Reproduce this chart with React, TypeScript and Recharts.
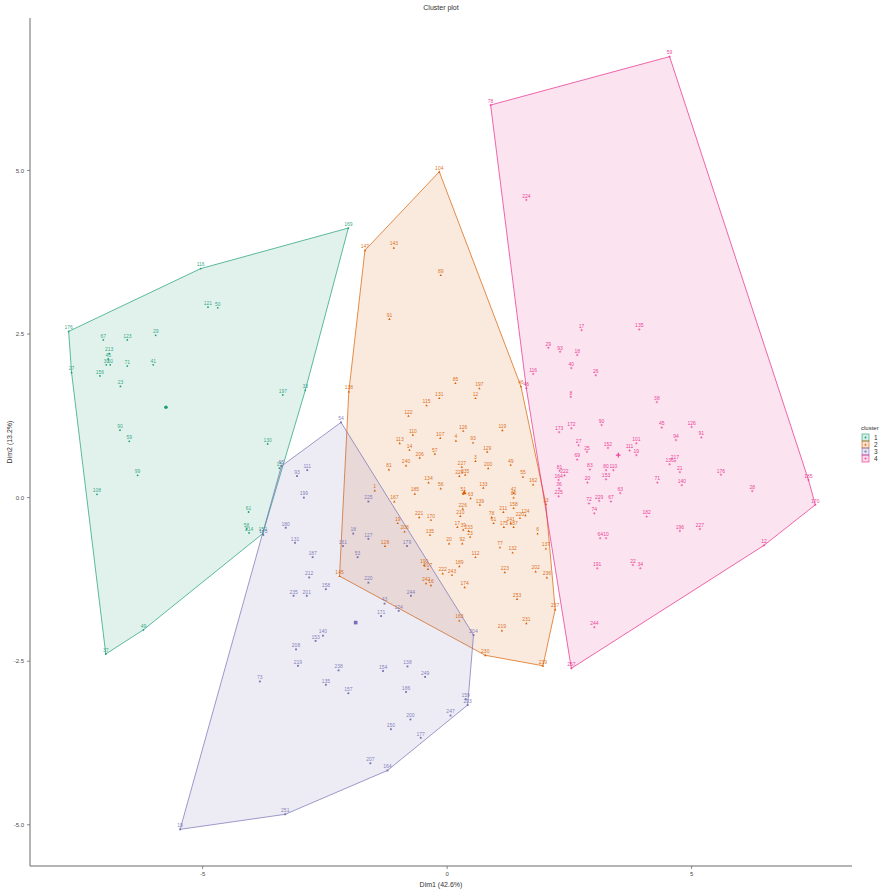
import React from 'react';
import { ScatterChart, Scatter, XAxis, YAxis } from 'recharts';

type Pt = [string, number, number];

// Observations on the first two principal dimensions, one list per cluster: [label, Dim1, Dim2]
const cluster1: Pt[] = [
  ['116', -5.04, 3.5], ['121', -4.89, 2.91], ['50', -4.69, 2.9], ['169', -2.02, 4.12],
  ['176', -7.74, 2.54], ['67', -7.03, 2.41], ['123', -6.54, 2.41], ['29', -5.96, 2.48],
  ['213', -6.91, 2.2], ['45', -6.93, 2.12], ['30', -6.97, 2.03], ['60', -6.89, 2.03],
  ['71', -6.54, 2.01], ['41', -6.01, 2.03], ['27', -7.68, 1.91], ['156', -7.1, 1.86],
  ['23', -6.68, 1.7], ['197', -3.36, 1.57], ['33', -2.9, 1.64], ['130', -3.67, 0.82],
  ['15', -3.43, 0.45], ['90', -6.69, 1.03], ['59', -6.5, 0.86], ['99', -6.33, 0.34],
  ['108', -7.16, 0.05], ['61', -4.06, -0.22], ['58', -4.1, -0.48], ['214', -4.05, -0.54],
  ['152', -3.77, -0.55], ['49', -6.21, -2.02], ['37', -6.98, -2.39],
];

const cluster2: Pt[] = [
  ['104', -0.16, 4.98], ['147', -1.68, 3.78], ['143', -1.09, 3.82], ['89', -0.13, 3.4],
  ['91', -1.18, 2.73], ['138', -2.01, 1.62], ['85', 0.17, 1.75], ['197', 0.66, 1.67],
  ['12', 0.58, 1.52], ['131', -0.16, 1.52], ['115', -0.42, 1.41], ['122', -0.79, 1.25],
  ['110', -0.7, 0.96], ['126', 0.33, 1.02], ['107', -0.14, 0.91], ['4', 0.18, 0.87],
  ['93', 0.53, 0.84], ['119', 1.13, 1.03], ['113', -0.97, 0.83], ['14', -0.77, 0.73],
  ['206', -0.56, 0.61], ['57', -0.25, 0.67], ['129', 0.82, 0.7], ['3', 0.58, 0.56],
  ['81', -1.19, 0.43], ['240', -0.84, 0.49], ['227', 0.3, 0.47], ['200', 0.84, 0.45],
  ['49', 1.3, 0.5], ['229', 0.25, 0.33], ['235', 0.37, 0.35], ['55', 1.55, 0.32],
  ['162', 1.76, 0.2], ['134', -0.38, 0.23], ['56', -0.13, 0.14], ['51', 0.33, 0.06],
  ['133', 0.74, 0.15], ['42', 1.36, 0.07], ['86', 1.36, 0.0], ['1', -1.48, 0.11],
  ['185', -0.66, 0.06], ['167', -1.08, -0.06], ['63', 0.48, -0.01], ['139', 0.67, -0.11],
  ['13', 2.02, -0.1], ['226', 0.32, -0.17], ['211', 1.15, -0.22], ['158', 1.36, -0.16],
  ['124', 1.6, -0.27], ['220', 1.49, -0.31], ['221', -0.57, -0.3], ['170', -0.33, -0.34],
  ['210', 0.27, -0.28], ['78', 0.91, -0.3], ['61', 0.95, -0.39], ['175', 1.16, -0.45],
  ['241', 1.3, -0.39], ['187', 1.36, -0.45], ['19', -1.01, -0.39], ['17', 0.21, -0.45],
  ['39', 0.33, -0.49], ['233', 0.44, -0.51], ['23', 0.47, -0.6], ['208', -0.87, -0.52],
  ['6', 1.85, -0.55], ['135', -0.35, -0.57], ['20', 0.04, -0.7], ['92', 0.31, -0.7],
  ['128', -1.27, -0.74], ['77', 1.08, -0.76], ['132', 1.34, -0.84], ['112', 0.58, -0.91],
  ['137', 2.02, -0.78], ['190', -0.47, -1.03], ['207', -0.39, -1.09], ['189', 0.25, -1.05],
  ['222', -0.09, -1.16], ['243', 0.1, -1.18], ['223', 1.18, -1.14], ['202', 1.81, -1.13],
  ['236', 2.04, -1.22], ['145', -2.2, -1.2], ['242', -0.43, -1.31], ['16', -0.33, -1.34],
  ['174', 0.36, -1.37], ['253', 1.43, -1.55], ['237', 2.21, -1.71], ['163', 0.25, -1.88],
  ['231', 1.62, -1.92], ['219', 1.12, -2.03], ['230', 0.78, -2.41], ['239', 1.96, -2.57],
  ['46', 1.51, 1.7],
];

const cluster3: Pt[] = [
  ['54', -2.17, 1.15], ['65', -3.39, 0.48], ['143', -3.76, -0.57], ['111', -2.86, 0.42],
  ['93', -3.07, 0.33], ['199', -2.93, 0.0], ['180', -3.3, -0.46], ['131', -3.11, -0.69],
  ['212', -2.82, -1.22], ['225', -1.61, -0.06], ['18', -1.92, -0.55], ['127', -1.61, -0.63],
  ['187', -2.75, -0.91], ['53', -1.83, -0.91], ['161', -2.13, -0.74], ['220', -1.61, -1.3],
  ['179', -0.82, -0.74], ['201', -2.87, -1.5], ['158', -2.48, -1.4], ['244', -0.74, -1.5],
  ['43', -1.28, -1.62], ['124', -0.99, -1.73], ['171', -1.35, -1.81], ['140', -2.54, -2.11],
  ['153', -2.69, -2.19], ['238', -2.22, -2.64], ['154', -1.31, -2.65], ['138', -0.81, -2.58],
  ['249', -0.45, -2.74], ['135', -2.48, -2.86], ['157', -2.02, -2.99], ['186', -0.84, -2.97],
  ['247', 0.07, -3.33], ['200', -0.75, -3.39], ['150', -1.15, -3.54], ['177', -0.54, -3.67],
  ['207', -1.57, -4.06], ['164', -1.22, -4.17], ['235', -3.14, -1.5], ['208', -3.09, -2.32],
  ['219', -3.05, -2.57], ['73', -3.83, -2.81], ['251', -3.31, -4.84], ['19', -5.46, -5.07],
  ['203', 0.42, -3.17], ['159', 0.38, -3.08], ['204', 0.54, -2.1],
];

const cluster4: Pt[] = [
  ['78', 0.89, 6.0], ['59', 4.55, 6.74], ['224', 1.62, 4.55], ['185', 7.39, 0.27],
  ['170', 7.53, -0.11], ['12', 6.48, -0.73], ['257', 2.54, -2.61], ['244', 3.01, -1.98],
  ['29', 2.07, 2.29], ['93', 2.31, 2.23], ['18', 2.66, 2.18], ['40', 2.54, 1.98],
  ['116', 1.76, 1.89], ['8', 2.53, 1.54], ['172', 2.54, 1.06], ['173', 2.29, 1.0],
  ['27', 2.69, 0.8], ['69', 2.66, 0.58], ['81', 2.3, 0.41], ['222', 2.4, 0.34],
  ['164', 2.28, 0.27], ['36', 2.29, 0.14], ['225', 2.28, 0.02], ['17', 2.75, 2.56],
  ['135', 3.93, 2.57], ['26', 3.04, 1.87], ['38', 4.29, 1.46], ['90', 3.16, 1.11],
  ['45', 4.39, 1.07], ['126', 5.0, 1.08], ['94', 4.68, 0.88], ['91', 5.2, 0.92],
  ['101', 3.87, 0.83], ['152', 3.29, 0.76], ['111', 3.73, 0.72], ['19', 3.87, 0.65],
  ['25', 2.86, 0.7], ['217', 4.66, 0.56], ['136', 4.55, 0.51], ['21', 4.76, 0.39],
  ['176', 5.6, 0.35], ['83', 2.92, 0.43], ['80', 3.25, 0.42], ['110', 3.4, 0.42],
  ['153', 3.25, 0.28], ['20', 2.87, 0.23], ['71', 4.3, 0.23], ['140', 4.8, 0.19],
  ['28', 6.24, 0.1], ['63', 3.54, 0.07], ['72', 2.9, -0.09], ['229', 3.11, -0.05],
  ['67', 3.35, -0.06], ['74', 3.01, -0.24], ['182', 4.08, -0.29], ['196', 4.76, -0.51],
  ['227', 5.17, -0.48], ['64', 3.13, -0.62], ['10', 3.25, -0.62], ['191', 3.07, -1.08],
  ['22', 3.8, -1.03], ['34', 3.95, -1.08], ['46', 1.62, 1.67],
];

// Cluster centres (Dim1, Dim2)
const centerDim1 = [-5.75, 0.35, -1.87, 3.5];
const centerDim2 = [1.38, 0.08, -1.91, 0.65];

const clusterNames = ['1', '2', '3', '4'];
const clusterColors = ['#1B9E77', '#D95F02', '#7570B3', '#E7298A'];
const xTicks = [-5, 0, 5];
const yTicks = [-5, -2.5, 0, 2.5, 5];

const allClusters = [cluster1, cluster2, cluster3, cluster4];

type P = { x: number; y: number; label: string };

const toPoints = (pts: Pt[]): P[] => pts.map(([label, x, y]) => ({ x, y, label }));

// Convex hull (monotone chain), returned closed
const convexHull = (pts: P[]): P[] => {
  const s = [...pts].sort((a, b) => a.x - b.x || a.y - b.y);
  const cross = (o: P, a: P, b: P) => (a.x - o.x) * (b.y - o.y) - (a.y - o.y) * (b.x - o.x);
  const lower: P[] = [];
  for (const q of s) {
    while (lower.length >= 2 && cross(lower[lower.length - 2], lower[lower.length - 1], q) <= 0) lower.pop();
    lower.push(q);
  }
  const upper: P[] = [];
  for (let i = s.length - 1; i >= 0; i--) {
    const q = s[i];
    while (upper.length >= 2 && cross(upper[upper.length - 2], upper[upper.length - 1], q) <= 0) upper.pop();
    upper.push(q);
  }
  upper.pop();
  lower.pop();
  const h = lower.concat(upper);
  return h.concat([h[0]]);
};

const FONT = '"Liberation Sans", Arial, sans-serif';

const Marker = ({ k, cx, cy, big }: { k: number; cx: number; cy: number; big?: boolean }) => {
  const c = clusterColors[k];
  const f = big ? 2 : 1;
  if (k === 0) return <circle cx={cx} cy={cy} r={0.9 * f} fill={c} />;
  if (k === 1) {
    const s = 1.2 * f;
    return <path d={`M${cx},${cy - s}L${cx + s},${cy + s * 0.8}L${cx - s},${cy + s * 0.8}Z`} fill={c} />;
  }
  if (k === 2) {
    const s = 0.9 * f;
    return <rect x={cx - s} y={cy - s} width={2 * s} height={2 * s} fill={c} />;
  }
  const s = 1.2 * f;
  return (
    <path d={`M${cx - s},${cy}H${cx + s}M${cx},${cy - s}V${cy + s}`} stroke={c} strokeWidth={0.5 * f} fill="none" />
  );
};

const pointShape = (k: number) => (props: any) => {
  const { cx, cy, payload } = props;
  if (cx == null || cy == null) return <g />;
  return (
    <g>
      <Marker k={k} cx={cx} cy={cy} />
      <text
        x={cx}
        y={cy - 2.2}
        fontSize={5}
        fill={clusterColors[k]}
        fillOpacity={0.9}
        textAnchor="middle"
        fontFamily={FONT}
      >
        {payload.label}
      </text>
    </g>
  );
};

const centerShape = (props: any) => {
  const { cx, cy, payload } = props;
  if (cx == null || cy == null) return <g />;
  return <Marker k={payload.k} cx={cx} cy={cy} big />;
};

const hullLine = (k: number) => (props: any) => {
  const pts: { x: number; y: number }[] = props.points || [];
  const d = pts.map((p, i) => `${i ? 'L' : 'M'}${p.x},${p.y}`).join('') + 'Z';
  return (
    <path d={d} fill={clusterColors[k]} fillOpacity={0.13} stroke={clusterColors[k]} strokeWidth={0.7} strokeLinejoin="round" />
  );
};

const noShape = () => <g />;

const centers = centerDim1.map((x, k) => ({ x, y: centerDim2[k], k, label: '' }));

const fmtY = (v: number) => v.toFixed(1);

export default function App() {
  const pointSets = allClusters.map(toPoints);
  const hulls = pointSets.map(convexHull);
  return (
    <div style={{ position: 'absolute', left: 0, top: 0, width: 886, height: 892, background: '#fff' }}>
      <ScatterChart width={886} height={892} margin={{ top: 18, right: 34, bottom: 0, left: 0 }}>
        <XAxis
          type="number"
          dataKey="x"
          domain={[-8.53, 8.28]}
          allowDataOverflow
          ticks={xTicks}
          height={26}
          tickSize={3}
          tickMargin={3}
          tick={{ fontSize: 6, fill: '#4D4D4D', fontFamily: FONT }}
          axisLine={{ stroke: '#6b6b6b', strokeWidth: 1 }}
          tickLine={{ stroke: '#6b6b6b', strokeWidth: 0.8 }}
        />
        <YAxis
          type="number"
          dataKey="y"
          domain={[-5.63, 7.33]}
          allowDataOverflow
          ticks={yTicks}
          width={30}
          tickSize={3}
          tickMargin={3}
          tickFormatter={fmtY}
          tick={{ fontSize: 6, fill: '#4D4D4D', fontFamily: FONT }}
          axisLine={{ stroke: '#6b6b6b', strokeWidth: 1 }}
          tickLine={{ stroke: '#6b6b6b', strokeWidth: 0.8 }}
        />
        {hulls.map((h, k) => (
          <Scatter
            key={`hull-${k}`}
            data={h}
            shape={noShape}
            line={hullLine(k)}
            lineType="joint"
            isAnimationActive={false}
          />
        ))}
        {pointSets.map((pts, k) => (
          <Scatter key={`pts-${k}`} data={pts} shape={pointShape(k)} isAnimationActive={false} />
        ))}
        <Scatter data={centers} shape={centerShape} isAnimationActive={false} />
      </ScatterChart>
      <svg
        width={886}
        height={892}
        style={{ position: 'absolute', left: 0, top: 0, pointerEvents: 'none' }}
      >
        <text x={441} y={10} fontSize={7} fill="#333" textAnchor="middle" fontFamily={FONT}>
          Cluster plot
        </text>
        <text x={441} y={887} fontSize={7} fill="#333" textAnchor="middle" fontFamily={FONT}>
          Dim1 (42.6%)
        </text>
        <text
          x={12}
          y={442}
          fontSize={7}
          fill="#333"
          textAnchor="middle"
          fontFamily={FONT}
          transform="rotate(-90 12 442)"
        >
          Dim2 (13.2%)
        </text>
        <text x={861} y={430} fontSize={6} fill="#333" fontFamily={FONT}>
          cluster
        </text>
        {clusterNames.map((name, k) => {
          const y = 434 + k * 7;
          return (
            <g key={name}>
              <rect
                x={862}
                y={y}
                width={7}
                height={7}
                fill={clusterColors[k]}
                fillOpacity={0.18}
                stroke={clusterColors[k]}
                strokeWidth={0.6}
              />
              <Marker k={k} cx={865.5} cy={y + 3.5} />
              <text x={874} y={y + 5.6} fontSize={6.5} fill="#333" fontFamily={FONT}>
                {name}
              </text>
            </g>
          );
        })}
      </svg>
    </div>
  );
}
